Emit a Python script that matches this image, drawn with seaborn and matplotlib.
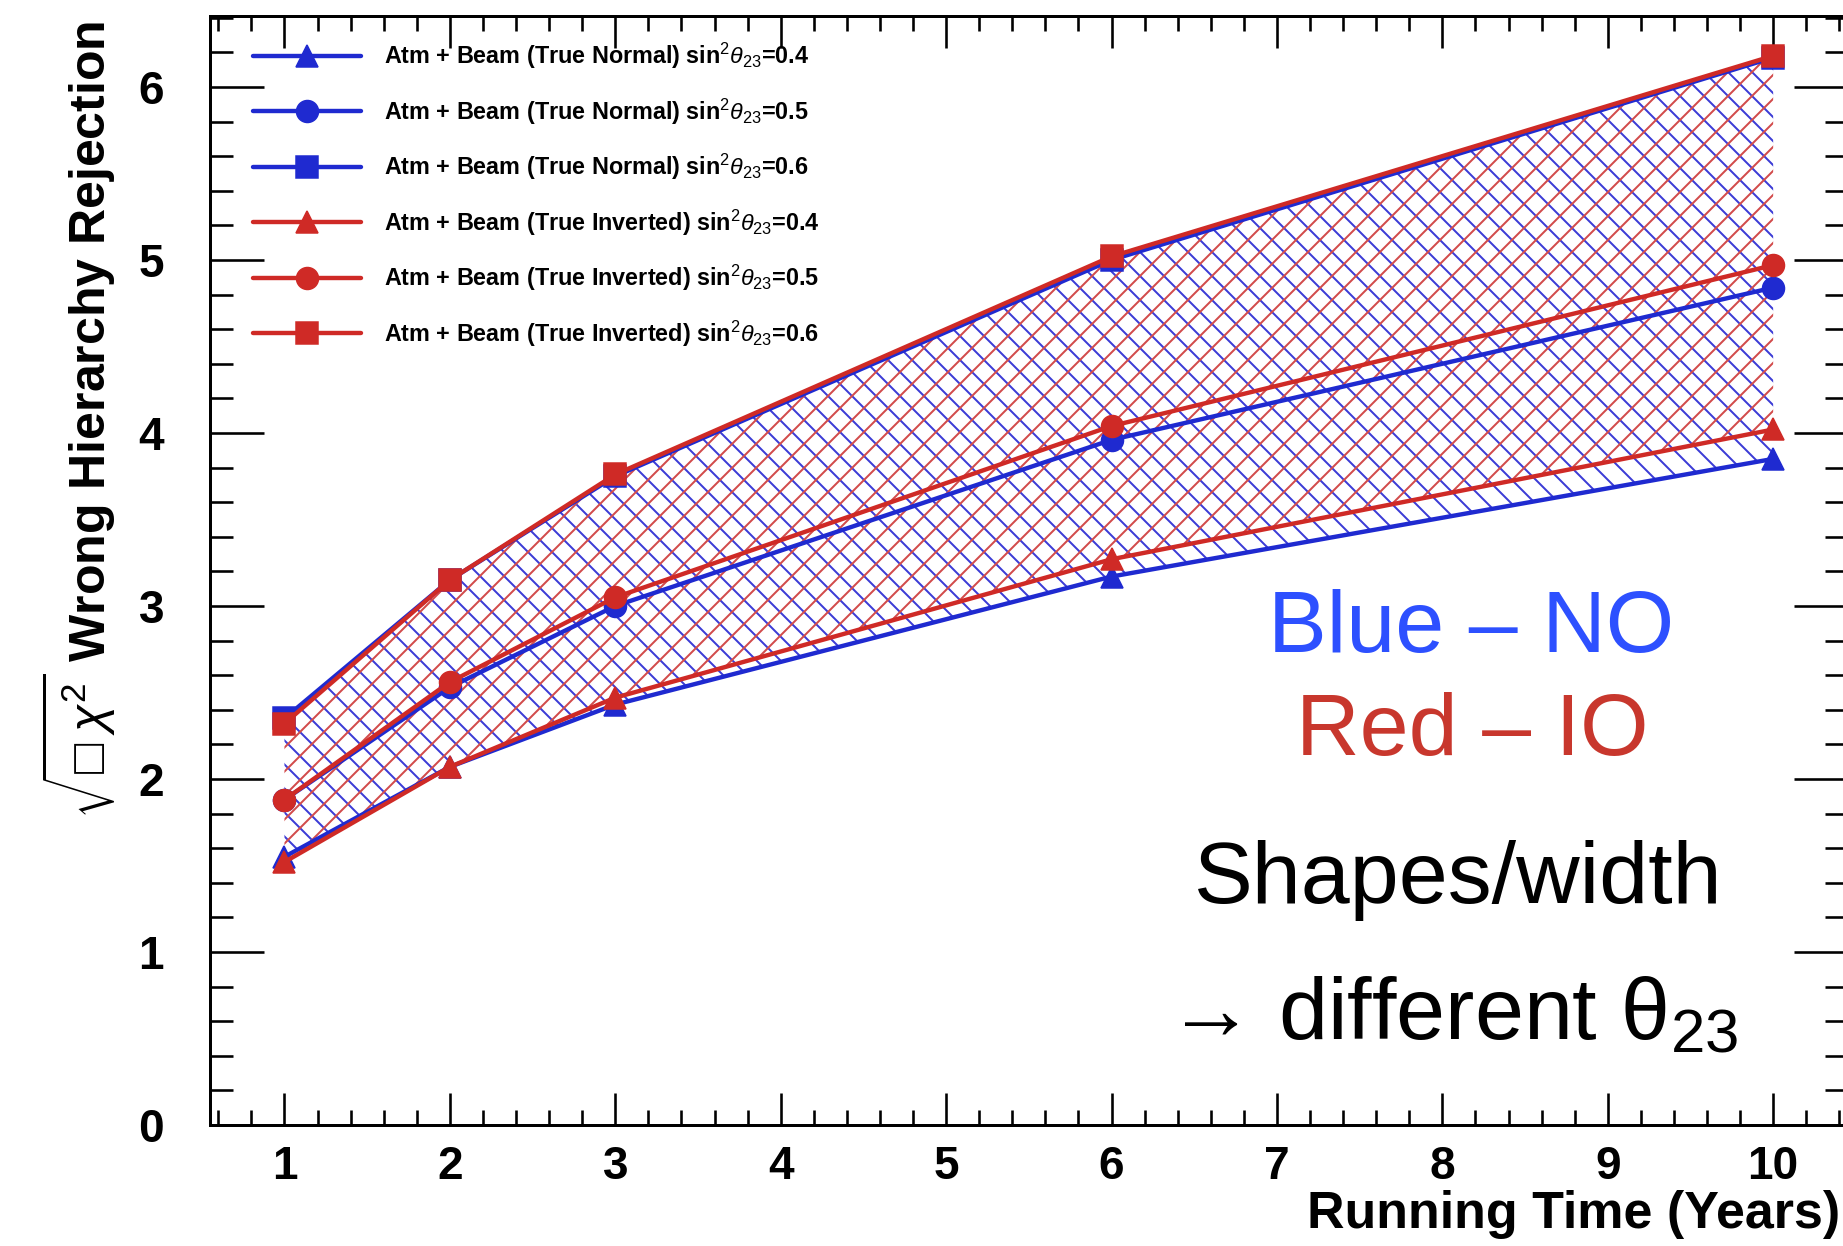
import numpy as np
import pandas as pd
import matplotlib
matplotlib.use("Agg")
import matplotlib.pyplot as plt
from matplotlib.ticker import MultipleLocator
import seaborn as sns

# running time in years
years = [1, 2, 3, 6, 10]

# normal ordering (blue), one list per sin^2(theta23)
no_04 = [1.55, 2.07, 2.43, 3.17, 3.85]
no_05 = [1.88, 2.53, 3.00, 3.96, 4.84]
no_06 = [2.35, 3.15, 3.75, 5.00, 6.17]

# inverted ordering (red)
io_04 = [1.52, 2.07, 2.47, 3.27, 4.02]
io_05 = [1.88, 2.56, 3.05, 4.04, 4.97]
io_06 = [2.32, 3.15, 3.76, 5.02, 6.18]

sin2_labels = ["0.4", "0.5", "0.6"]
x_ticks = [1, 2, 3, 4, 5, 6, 7, 8, 9, 10]
y_ticks = [0, 1, 2, 3, 4, 5, 6]

W, H, DPI = 1843, 1246, 144

sns.set_style("ticks")
plt.rcParams["font.family"] = ["Liberation Sans", "DejaVu Sans"]
plt.rcParams["mathtext.fontset"] = "custom"
plt.rcParams["mathtext.rm"] = "Liberation Sans"
plt.rcParams["mathtext.it"] = "Liberation Sans:italic"
plt.rcParams["mathtext.bf"] = "Liberation Sans:bold"
plt.rcParams["hatch.linewidth"] = 1.0
for k in ["text.color", "axes.labelcolor", "xtick.color", "ytick.color", "axes.edgecolor"]:
    plt.rcParams[k] = "black"

blue = "#1f2ad0"
red = "#cf2a26"

# tabla larga para seaborn
rows = []
for order, series in [("Normal", [no_04, no_05, no_06]), ("Inverted", [io_04, io_05, io_06])]:
    for s2, vals in zip(sin2_labels, series):
        for yr, v in zip(years, vals):
            rows.append({"order": order, "sin2": s2, "year": yr, "value": v})
df = pd.DataFrame(rows)

fig = plt.figure(figsize=(W / DPI, H / DPI), dpi=DPI)
ax = fig.add_axes([210 / W, 121 / H, 1637.6 / W, 1109 / H])

# bandas con rayado
ax.fill_between(years, no_04, no_06, facecolor="none", edgecolor="#3c3cd6",
                hatch="\\\\", linewidth=0)
ax.fill_between(years, io_04, io_06, facecolor="none", edgecolor="#d24b4b",
                hatch="//", linewidth=0)

markers = {"0.4": "^", "0.5": "o", "0.6": "s"}
colors = {"Normal": blue, "Inverted": red}
for order in ["Normal", "Inverted"]:
    for s2 in sin2_labels:
        sub = df[(df["order"] == order) & (df["sin2"] == s2)]
        c = colors[order]
        sns.lineplot(data=sub, x="year", y="value", ax=ax, color=c,
                     marker=markers[s2], markersize=11, linewidth=2.2,
                     markeredgecolor=c, markerfacecolor=c,
                     label=f"Atm + Beam (True {order}) sin$^{{2}}\\theta_{{23}}$={s2}")

ax.set_xlim(0.55, 10.45)
ax.set_ylim(0, 6.41)
ax.set_xticks(x_ticks)
ax.set_yticks(y_ticks)
ax.xaxis.set_minor_locator(MultipleLocator(0.2))
ax.yaxis.set_minor_locator(MultipleLocator(0.2))
for lab in ax.get_xticklabels() + ax.get_yticklabels():
    lab.set_fontweight("bold")
ax.tick_params(which="both", direction="in", top=True, right=True, width=1.3,
               labelsize=23, color="black", labelcolor="black")
ax.tick_params(axis="x", which="major", length=16, pad=10)
ax.tick_params(axis="x", which="minor", length=7.5)
ax.tick_params(axis="y", which="major", length=27, pad=23)
ax.tick_params(axis="y", which="minor", length=11.5)
for sp in ax.spines.values():
    sp.set_linewidth(1.5)
    sp.set_color("black")

ax.set_xlabel("Running Time (Years)", fontsize=26, fontweight="bold", ha="right")
ax.xaxis.set_label_coords((1840 - 210) / 1637.6, -(1190 - 1125) / 1109)
ax.set_ylabel(r"$\sqrt{□\;\chi^{2}}$ Wrong Hierarchy Rejection", fontsize=25,
              fontweight="bold", loc="top")
ax.yaxis.set_label_coords((118 - 210) / 1637.6, (1125 - 21) / 1109)

leg = ax.legend(loc="upper left", bbox_to_anchor=((253 - 210) / 1637.6, (1125 - 41) / 1109),
                frameon=False, borderpad=0, borderaxespad=0, fontsize=11.7,
                handlelength=4.6, handletextpad=1.0, labelspacing=1.08)
for t in leg.get_texts():
    t.set_fontweight("bold")

# anotaciones
fig.text(1471 / W, 1 - 652 / H, "Blue – NO", color="#2d50ff", fontsize=44,
         ha="center", va="baseline")
fig.text(1472 / W, 1 - 755 / H, "Red – IO", color="#c8372d", fontsize=44,
         ha="center", va="baseline")
fig.text(1458 / W, 1 - 903 / H, "Shapes/width", color="black", fontsize=44,
         ha="center", va="baseline")
fig.text(1452 / W, 1 - 1040 / H, "→ different θ$_{23}$", color="black", fontsize=44,
         ha="center", va="baseline")

fig.savefig("out.png", dpi=DPI)
